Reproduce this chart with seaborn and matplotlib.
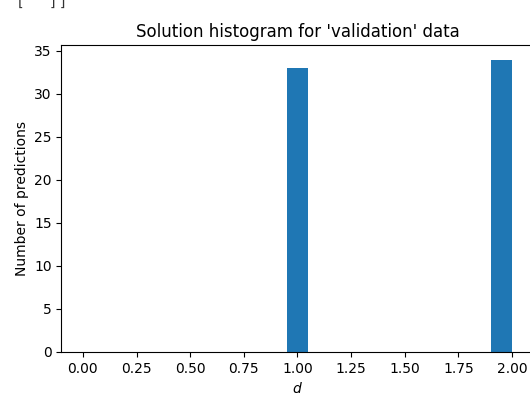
import numpy as np
import matplotlib
matplotlib.use("Agg")
import matplotlib.pyplot as plt
import seaborn as sns

# Predicted solution values and how many times each was predicted
solution_values = [1.0, 2.0]
prediction_counts = [33, 34]
bin_edges = [0.95, 1.05, 1.90, 2.00]
x_ticks = [0.00, 0.25, 0.50, 0.75, 1.00, 1.25, 1.50, 1.75, 2.00]
y_ticks = [0, 5, 10, 15, 20, 25, 30, 35]

fig = plt.figure(figsize=(5.3, 3.98), dpi=100)
ax = fig.add_axes([0.116, 0.1156, 0.8906, 0.7714])

sns.histplot(x=solution_values, weights=prediction_counts, bins=bin_edges,
             color="#1f77b4", alpha=1.0, linewidth=0, ax=ax)

ax.set_xlim(-0.1, 2.1)
ax.set_ylim(0, 35.7)
ax.set_xticks(x_ticks)
ax.set_xticklabels([f"{t:.2f}" for t in x_ticks])
ax.set_yticks(y_ticks)
ax.set_title("Solution histogram for 'validation' data", fontsize=12)
ax.set_xlabel("$d$")
ax.set_ylabel("Number of predictions")

# remnants of the previous cell output peeking in at the top edge
fig.text(18 / 530, 1 - 2 / 398, "[", fontsize=10, va="center", color="#333333")
fig.text(50 / 530, 1 - 2 / 398, "] ]", fontsize=10, va="center", color="#333333")

fig.savefig("out.png", dpi=100)
